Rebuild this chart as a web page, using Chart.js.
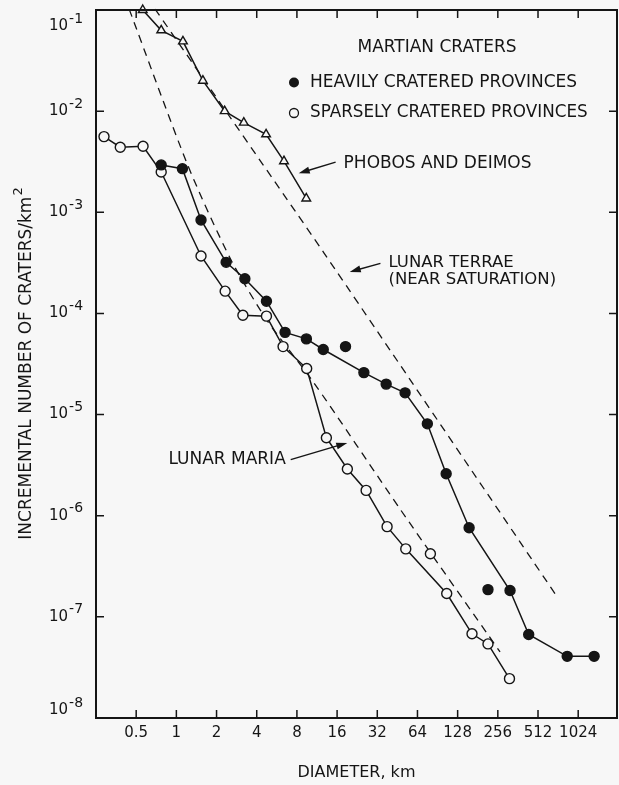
<!DOCTYPE html>
<html>
<head>
<meta charset="utf-8">
<script src="https://cdn.jsdelivr.net/npm/chart.js@4"></script>
<style>
  html, body { margin: 0; padding: 0; background: #f7f7f7; }
  #wrap { width: 619px; height: 785px; }
</style>
</head>
<body>
<div id="wrap"><canvas id="chart" width="619" height="785"></canvas></div>
<script>
// axis ticks
const diameterTicks = [0.5, 1, 2, 4, 8, 16, 32, 64, 128, 256, 512, 1024];
const densityTicks = [1e-8, 1e-7, 1e-6, 1e-5, 1e-4, 1e-3, 1e-2, 1e-1];

// Phobos and Deimos (triangles)
const phobosD = [0.56, 0.77, 1.12, 1.58, 2.3, 3.2, 4.7, 6.4, 9.4];
const phobosN = [0.1, 0.063, 0.049, 0.020, 0.010, 0.0077, 0.0059, 0.0032, 0.00137];

// heavily cratered provinces (filled circles)
const heavyD = [0.77, 1.11, 1.53, 2.36, 3.26, 4.73, 6.52, 9.42, 12.6, 25.4, 37.3, 51.7, 75.9, 105, 156, 316, 436, 847, 1348];
const heavyN = [2.94e-3, 2.7e-3, 8.4e-4, 3.2e-4, 2.2e-4, 1.32e-4, 6.5e-5, 5.6e-5, 4.4e-5, 2.6e-5, 2.0e-5, 1.64e-5, 8.1e-6, 2.6e-6, 7.6e-7, 1.82e-7, 6.7e-8, 4.07e-8, 4.07e-8];
const heavyLooseD = [18.5, 216];
const heavyLooseN = [4.7e-5, 1.86e-7];

// sparsely cratered provinces (open circles)
const sparseD = [0.287, 0.38, 0.563, 0.77, 1.53, 2.32, 3.15, 4.73, 6.3, 9.47, 13.3, 19.1, 26.4, 37.9, 52.3, 106, 164, 216, 313];
const sparseN = [5.6e-3, 4.4e-3, 4.5e-3, 2.5e-3, 3.7e-4, 1.66e-4, 9.6e-5, 9.4e-5, 4.7e-5, 2.85e-5, 5.9e-6, 2.9e-6, 1.78e-6, 7.8e-7, 4.7e-7, 1.7e-7, 6.8e-8, 5.4e-8, 2.45e-8];
const sparseLooseD = [80];
const sparseLooseN = [4.2e-7];

// dashed reference curves
const mariaD = [0.443, 1.22, 2.56, 4.82, 10.7, 47.7, 266];
const mariaN = [0.102, 2.9e-3, 3.4e-4, 8.4e-5, 2.07e-5, 1.15e-6, 4.5e-8];
const terraeD = [0.693, 12.7, 724];
const terraeN = [0.102, 4.0e-4, 1.53e-7];

// annotation anchors, in data units: [text x, text y, arrow tail x, tail y, tip x, tip y]
const phobosNote = [17.9, 3.05e-3, 15.6, 3.13e-3, 8.25, 2.43e-3];
const terraeNote = [38.8, 3.16e-4, 33.8, 3.13e-4, 19.9, 2.57e-4];
const mariaNote = [6.6, 3.58e-6, 7.19, 3.58e-6, 19.07, 5.25e-6];

const INK = '#151515';
const BG = '#f7f7f7';
const FONT = '"DejaVu Sans"';

const pts = (xs, ys) => xs.map((x, i) => ({ x, y: ys[i] }));

function arrow(ctx, x1, y1, x2, y2) {
  const a = Math.atan2(y2 - y1, x2 - x1);
  ctx.beginPath();
  ctx.moveTo(x1, y1);
  ctx.lineTo(x2 - 8 * Math.cos(a), y2 - 8 * Math.sin(a));
  ctx.stroke();
  ctx.beginPath();
  ctx.moveTo(x2, y2);
  ctx.lineTo(x2 - 11 * Math.cos(a) + 3.5 * Math.sin(a), y2 - 11 * Math.sin(a) - 3.5 * Math.cos(a));
  ctx.lineTo(x2 - 11 * Math.cos(a) - 3.5 * Math.sin(a), y2 - 11 * Math.sin(a) + 3.5 * Math.cos(a));
  ctx.closePath();
  ctx.fill();
}

const framePlugin = {
  id: 'frame',
  beforeDraw(chart) {
    const ctx = chart.ctx;
    ctx.save();
    ctx.fillStyle = BG;
    ctx.fillRect(0, 0, chart.width, chart.height);
    ctx.restore();
  },
  afterDraw(chart) {
    const { ctx, chartArea: a, scales: { x, y } } = chart;
    ctx.save();
    ctx.strokeStyle = INK;
    ctx.fillStyle = INK;

    // frame + inward ticks
    ctx.lineWidth = 2;
    ctx.strokeRect(a.left, a.top, a.right - a.left, a.bottom - a.top);
    ctx.lineWidth = 1.5;
    ctx.beginPath();
    diameterTicks.forEach(v => {
      const px = x.getPixelForValue(v);
      ctx.moveTo(px, a.bottom); ctx.lineTo(px, a.bottom - 8);
      ctx.moveTo(px, a.top); ctx.lineTo(px, a.top + 8);
    });
    densityTicks.forEach(v => {
      const py = y.getPixelForValue(v);
      ctx.moveTo(a.left, py); ctx.lineTo(a.left + 8, py);
      ctx.moveTo(a.right, py); ctx.lineTo(a.right - 8, py);
    });
    ctx.stroke();

    // y tick labels 10^n
    ctx.textAlign = 'left';
    ctx.textBaseline = 'middle';
    densityTicks.forEach(v => {
      const py = Math.min(Math.max(y.getPixelForValue(v), a.top + 16), a.bottom - 8);
      ctx.font = '15px ' + FONT;
      ctx.fillText('10', 49, py);
      const w = ctx.measureText('10').width;
      ctx.font = '14px ' + FONT;
      ctx.fillText('-' + Math.abs(Math.round(Math.log10(v))), 49 + w + 1, py - 7);
    });

    // y title, rotated
    ctx.save();
    ctx.translate(27, (a.top + a.bottom) / 2);
    ctx.rotate(-Math.PI / 2);
    ctx.font = '17px ' + FONT;
    const main = 'INCREMENTAL NUMBER OF CRATERS/km';
    const w1 = ctx.measureText(main).width;
    ctx.font = '13px ' + FONT;
    const w2 = ctx.measureText('2').width;
    ctx.font = '17px ' + FONT;
    ctx.fillText(main, -(w1 + w2) / 2, 0);
    ctx.font = '13px ' + FONT;
    ctx.fillText('2', -(w1 + w2) / 2 + w1 + 1, -8);
    ctx.restore();

    // legend block
    ctx.font = '17px ' + FONT;
    ctx.textAlign = 'center';
    ctx.fillText('MARTIAN CRATERS', 437, 47.5);
    ctx.textAlign = 'left';
    ctx.fillText('HEAVILY CRATERED PROVINCES', 310, 82.5);
    ctx.font = '16.8px ' + FONT;
    ctx.fillText('SPARSELY CRATERED PROVINCES', 310, 113);
    ctx.beginPath();
    ctx.arc(294, 82.5, 5, 0, Math.PI * 2);
    ctx.fill();
    ctx.beginPath();
    ctx.arc(294, 113, 4.5, 0, Math.PI * 2);
    ctx.fillStyle = BG;
    ctx.fill();
    ctx.lineWidth = 1.3;
    ctx.stroke();
    ctx.fillStyle = INK;

    // annotations
    ctx.lineWidth = 1.4;
    const note = (n, lines, align, size) => {
      const tx = x.getPixelForValue(n[0]), ty = y.getPixelForValue(n[1]);
      ctx.font = size + 'px ' + FONT;
      ctx.textAlign = align;
      lines.forEach((t, i) => ctx.fillText(t, tx, ty + i * 16.5));
      arrow(ctx, x.getPixelForValue(n[2]), y.getPixelForValue(n[3]),
        x.getPixelForValue(n[4]), y.getPixelForValue(n[5]));
    };
    note(phobosNote, ['PHOBOS AND DEIMOS'], 'left', 17);
    note(terraeNote, ['LUNAR TERRAE', '(NEAR SATURATION)'], 'left', 16.5);
    note(mariaNote, ['LUNAR MARIA'], 'right', 17);
    ctx.restore();
  }
};

const solid = { showLine: true, borderColor: INK, borderWidth: 1.5, pointBorderColor: INK, pointBorderWidth: 1.4, pointRadius: 5, clip: 8 };

new Chart(document.getElementById('chart'), {
  type: 'scatter',
  data: {
    datasets: [
      { ...solid, label: 'Heavily cratered', data: pts(heavyD, heavyN), pointBackgroundColor: INK },
      { ...solid, showLine: false, label: 'Heavily cratered (loose)', data: pts(heavyLooseD, heavyLooseN), pointBackgroundColor: INK },
      { ...solid, label: 'Sparsely cratered', data: pts(sparseD, sparseN), pointBackgroundColor: BG },
      { ...solid, showLine: false, label: 'Sparsely cratered (loose)', data: pts(sparseLooseD, sparseLooseN), pointBackgroundColor: BG },
      { ...solid, label: 'Phobos and Deimos', data: pts(phobosD, phobosN), pointStyle: 'triangle', pointRadius: 5, pointBackgroundColor: BG },
      { label: 'Lunar maria', data: pts(mariaD, mariaN), showLine: true, borderColor: INK, borderWidth: 1.3, borderDash: [8, 6], pointRadius: 0, tension: 0.25, clip: 2 },
      { label: 'Lunar terrae', data: pts(terraeD, terraeN), showLine: true, borderColor: INK, borderWidth: 1.3, borderDash: [8, 6], pointRadius: 0, tension: 0.2, clip: 2 }
    ]
  },
  options: {
    responsive: false,
    animation: false,
    devicePixelRatio: 1,
    layout: { autoPadding: false, padding: { left: 96, right: 2, top: 10, bottom: 3 } },
    plugins: { legend: { display: false }, tooltip: { enabled: false } },
    scales: {
      x: {
        type: 'logarithmic',
        min: 0.25,
        max: 2000,
        afterBuildTicks: axis => { axis.ticks = diameterTicks.map(v => ({ value: v })); },
        afterFit: axis => { axis.height = 64; axis.paddingLeft = 0; axis.paddingRight = 0; },
        grid: { display: false, drawTicks: false },
        border: { display: false },
        ticks: {
          autoSkip: false,
          maxRotation: 0,
          padding: 6,
          color: INK,
          font: { family: FONT, size: 15 },
          callback: v => String(v)
        },
        title: {
          display: true,
          text: 'DIAMETER, km',
          color: INK,
          font: { family: FONT, size: 16 },
          padding: { top: 21, bottom: 0 }
        }
      },
      y: {
        type: 'logarithmic',
        min: 1e-8,
        max: 0.1,
        afterBuildTicks: axis => { axis.ticks = densityTicks.map(v => ({ value: v })); },
        grid: { display: false, drawTicks: false },
        border: { display: false },
        ticks: { display: false }
      }
    }
  },
  plugins: [framePlugin]
});
</script>
</body>
</html>
